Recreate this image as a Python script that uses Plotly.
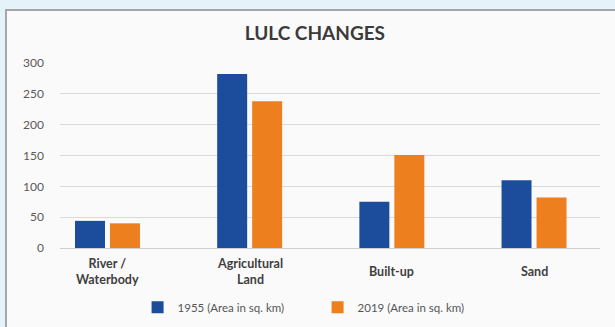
import plotly.graph_objects as go

# Land use / land cover areas (sq. km)
categories = ["River / Waterbody", "Agricultural Land", "Built-up", "Sand"]
category_labels = ["River /<br>Waterbody", "Agricultural<br>Land", "Built-up", "Sand"]
area_1955 = [44, 282, 75, 110]
area_2019 = [40, 238, 151, 82]
series_names = ["1955 (Area in sq. km)", "2019 (Area in sq. km)"]
y_ticks = [0, 50, 100, 150, 200, 250, 300]

BLUE = "#1c4c9c"
ORANGE = "#ee7f1e"
FONT = "Lato"

fig = go.Figure()
fig.add_trace(go.Bar(x=categories, y=area_1955, name=series_names[0],
                     marker=dict(color=BLUE, line=dict(width=0))))
fig.add_trace(go.Bar(x=categories, y=area_2019, name=series_names[1],
                     marker=dict(color=ORANGE, line=dict(width=0))))

# category labels centred vertically under each group
for cat, lab in zip(categories, category_labels):
    fig.add_annotation(x=cat, xref="x", y=-0.127, yref="paper", text=lab,
                       showarrow=False, yanchor="middle", xanchor="center",
                       font=dict(family=FONT, size=12.5, color="#404040", weight="bold"),
                       align="center")

# chart frame on the light-blue page
fig.add_shape(type="rect", xref="paper", yref="paper",
              x0=-0.1, x1=1.2, y0=-0.6, y1=1.287,
              line=dict(color="#a6a6a6", width=2), fillcolor="#fafafa", layer="below")

fig.update_layout(
    width=615, height=327,
    margin=dict(l=60, r=15, t=63, b=79, autoexpand=False),
    paper_bgcolor="#e4f2f9",
    plot_bgcolor="rgba(0,0,0,0)",
    barmode="group",
    bargap=0.508,
    bargroupgap=0.143,
    title=dict(text="<b>LULC CHANGES</b>", x=0.512, xanchor="center",
               y=0.899, yanchor="middle", xref="container", yref="container",
               font=dict(family=FONT, size=19, color="#3a3a3a")),
    legend=dict(orientation="h", x=0.477, xanchor="center", y=-0.32, yanchor="middle",
                font=dict(family=FONT, size=11.5, color="#555555"),
                entrywidth=135, entrywidthmode="pixels",
                itemwidth=30, bgcolor="rgba(0,0,0,0)", traceorder="normal"),
    showlegend=True,
)
fig.update_xaxes(range=[-0.334, 3.464], showticklabels=False, showgrid=False,
                 showline=False, zeroline=False, fixedrange=True)
fig.update_yaxes(range=[0, 300], tickvals=y_ticks, showgrid=True,
                 gridcolor="#d9d9d9", gridwidth=1, zeroline=True,
                 zerolinecolor="#d0d0d0", zerolinewidth=1, showline=False,
                 ticks="", ticklabelstandoff=15,
                 tickfont=dict(family=FONT, size=12, color="#595959"))

fig.write_html("out.html")
